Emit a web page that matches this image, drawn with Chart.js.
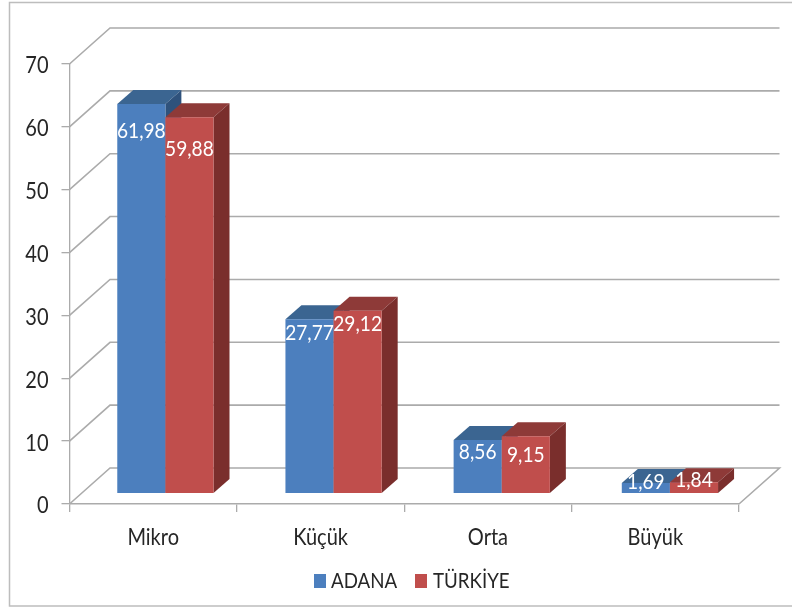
<!DOCTYPE html>
<html><head><meta charset="utf-8">
<style>html,body{margin:0;padding:0;background:#fff}canvas{display:block}</style>
<script src="https://cdn.jsdelivr.net/npm/chart.js@4"></script></head>
<body><canvas id="c" width="792" height="607"></canvas>
<script>
const categories = ["Mikro", "Küçük", "Orta", "Büyük"];
const adana = [61.98, 27.77, 8.56, 1.69];
const turkiye = [59.88, 29.12, 9.15, 1.84];
const yTicks = [0, 10, 20, 30, 40, 50, 60, 70];

const FONT = "Lato, sans-serif";
const TEXT = "#262626", GRID = "#ababab";
const WALL = {dx: 40.5, dy: -36};
const BAR = {dy: -10.3, depthX: 16, depthY: -14};
const BAR_DX = [12.2, 13, 13.8, 14.6];
const SHADE = [{top: "#3b6591", side: "#2f527c"}, {top: "#8e3a38", side: "#7a2e2c"}];
const LABEL_SHIFT = [[25, 12, 10, -3], [30, 11, 17, -4]];
const LEGEND_POS = [{box: 314, text: 331}, {box: 415, text: 433}];

/* the reference text is condensed horizontally: same glyphs, narrower */
const canvas = document.getElementById("c");
const rawCtx = canvas.getContext("2d");
const NARROW = 0.87, TEXT_DROP = 2;
const fill0 = rawCtx.fillText.bind(rawCtx), measure0 = rawCtx.measureText.bind(rawCtx);
rawCtx.fillText = (t, x, y) => {
  rawCtx.save(); rawCtx.translate(x, y + TEXT_DROP); rawCtx.scale(NARROW, 1); fill0(t, 0, 0); rawCtx.restore();
};
rawCtx.measureText = t => ({width: measure0(t).width * NARROW});

const depth3d = {
  id: "depth3d",
  beforeDatasetsDraw(chart) {
    const {ctx, scales: {x, y}} = chart;
    ctx.save();
    ctx.strokeStyle = GRID; ctx.lineWidth = 1.6;
    yTicks.forEach(v => {
      const py = y.getPixelForValue(v);
      ctx.beginPath();
      ctx.moveTo(x.left, py);
      ctx.lineTo(x.left + WALL.dx, py + WALL.dy);
      ctx.lineTo(x.right + WALL.dx, py + WALL.dy);
      if (v === 0) ctx.lineTo(x.right, py);
      ctx.stroke();
    });
    ctx.restore();
  },
  beforeDatasetDraw() { return false; },
  afterDatasetsDraw(chart) {
    const {ctx} = chart;
    [0, 1].forEach(d => {
      const meta = chart.getDatasetMeta(d), s = SHADE[d];
      meta.data.forEach((b, i) => {
        const l = b.x - b.width / 2, r = b.x + b.width / 2, t = b.y, bt = b.base;
        ctx.save();
        ctx.translate(BAR_DX[i], BAR.dy);
        ctx.fillStyle = s.top;
        ctx.beginPath();
        ctx.moveTo(l, t); ctx.lineTo(l + BAR.depthX, t + BAR.depthY);
        ctx.lineTo(r + BAR.depthX, t + BAR.depthY); ctx.lineTo(r, t);
        ctx.closePath(); ctx.fill();
        ctx.fillStyle = s.side;
        ctx.beginPath();
        ctx.moveTo(r, t); ctx.lineTo(r + BAR.depthX, t + BAR.depthY);
        ctx.lineTo(r + BAR.depthX, bt + BAR.depthY); ctx.lineTo(r, bt);
        ctx.closePath(); ctx.fill();
        b.draw(ctx);
        ctx.restore();
      });
    });
    ctx.save();
    ctx.fillStyle = "#fff"; ctx.font = "22px " + FONT;
    ctx.textAlign = "center"; ctx.textBaseline = "middle";
    [adana, turkiye].forEach((vals, d) => {
      const meta = chart.getDatasetMeta(d);
      vals.forEach((v, i) => {
        const b = meta.data[i];
        ctx.fillText(v.toFixed(2).replace(".", ","), b.x + BAR_DX[i], b.y + BAR.dy + LABEL_SHIFT[d][i]);
      });
    });
    ctx.restore();
  },
  afterDraw(chart) {
    const {ctx} = chart;
    ctx.save();
    ctx.strokeStyle = "#bdbdbd"; ctx.lineWidth = 1.5;
    ctx.beginPath();
    ctx.moveTo(792, 2.5); ctx.lineTo(9.5, 2.5); ctx.lineTo(9.5, 606); ctx.lineTo(792, 606);
    ctx.stroke();
    ctx.font = "21.5px " + FONT; ctx.textAlign = "left"; ctx.textBaseline = "middle";
    chart.data.datasets.forEach((ds, i) => {
      ctx.fillStyle = ds.backgroundColor;
      ctx.fillRect(LEGEND_POS[i].box, 574, 12, 14);
      ctx.fillStyle = TEXT;
      ctx.fillText(ds.label, LEGEND_POS[i].text, 579.5);
    });
    ctx.restore();
  }
};

new Chart(canvas, {
  type: "bar",
  data: {
    labels: categories,
    datasets: [
      {label: "ADANA", data: adana, backgroundColor: "#4c7fbe"},
      {label: "TÜRKİYE", data: turkiye, backgroundColor: "#c04e4c"}
    ]
  },
  options: {
    responsive: false, animation: false, devicePixelRatio: 1,
    layout: {padding: {left: 0, top: 64, right: 53, bottom: 0}},
    datasets: {bar: {categoryPercentage: 0.575, barPercentage: 1}},
    plugins: {tooltip: {enabled: false}, legend: {display: false}},
    scales: {
      x: {
        afterFit(s) { s.height = 103; },
        border: {color: GRID, width: 1.6},
        grid: {drawOnChartArea: false, drawTicks: true, tickLength: 8, color: GRID, lineWidth: 1.3},
        ticks: {color: TEXT, padding: 10, font: {family: FONT, size: 23}, maxRotation: 0}
      },
      y: {
        min: 0, max: 70,
        afterFit(s) { s.width = 69.5; },
        border: {color: GRID, width: 1.3},
        grid: {drawOnChartArea: false, drawTicks: true, tickLength: 8, color: GRID, lineWidth: 1.3},
        afterBuildTicks(s) { s.ticks = yTicks.map(v => ({value: v})); },
        ticks: {color: TEXT, padding: 13, font: {family: FONT, size: 23}}
      }
    }
  },
  plugins: [depth3d]
});
</script></body></html>
